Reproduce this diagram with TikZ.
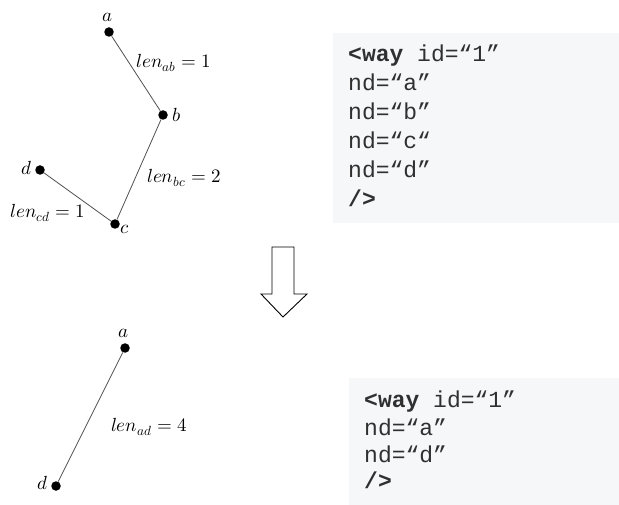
\documentclass[tikz,border=0pt]{standalone}
\usepackage{fontspec}
\usepackage{unicode-math}
\setmathfont{latinmodern-math.otf}
\setmonofont{Liberation Mono}
\definecolor{boxbg}{HTML}{F6F7F9}
\definecolor{edgec}{HTML}{505050}
\definecolor{codec}{HTML}{303030}
\begin{document}
\begin{tikzpicture}[x=1pt,y=-1pt,
  pt/.style={circle,fill=black,inner sep=0pt,minimum size=9.5pt},
  lbl/.style={inner sep=0pt,font=\fontsize{19}{22}\selectfont},
  edge/.style={draw=edgec,line width=0.8pt},
  code/.style={anchor=base west,inner sep=0pt,font=\fontsize{23}{26}\ttfamily,text=codec},
  codebox/.style={fill=boxbg,draw=none}]
\useasboundingbox (0,0) rectangle (619,505);
% top graph
\node[pt] (a) at (109,32) {};
\node[pt] (b) at (163,115) {};
\node[pt] (c) at (115,224) {};
\node[pt] (d) at (40,170) {};
\draw[edge] (a) -- (b);
\draw[edge] (b) -- (c);
\draw[edge] (c) -- (d);
\node[lbl] (la) at (108,17) {$a$};
\node[lbl] (lb) at (177,115) {$b$};
\node[lbl] (lc) at (125,229) {$c$};
\node[lbl] (ld) at (27,168) {$d$};
\node[lbl] (lab) at (174,63) {$len_{ab}=1$};
\node[lbl] (lbc) at (184,178) {$len_{bc}=2$};
\node[lbl] (lcd) at (48,213) {$len_{cd}=1$};
% top code box
\fill[codebox] (333,33) rectangle (619,223);
\node[code] (t1) at (348,62) {\textbf{<way} id=“1”};
\node[code] (t2) at (348,91) {nd=“a”};
\node[code] (t3) at (348,120) {nd=“b”};
\node[code] (t4) at (348,149) {nd=“c“};
\node[code] (t5) at (348,178) {nd=“d”};
\node[code] (t6) at (348,207) {\textbf{/>}};
% arrow
\draw[line width=0.9pt,fill=white,line join=miter] (272,247) -- (294,247) -- (294,294) -- (307,294) -- (283,317) -- (261,294) -- (272,294) -- cycle;
% bottom graph
\node[pt] (a2) at (125,348) {};
\node[pt] (d2) at (56,486) {};
\draw[edge] (a2) -- (d2);
\node[lbl] (la2) at (124,333) {$a$};
\node[lbl] (ld2) at (43,483) {$d$};
\node[lbl] (lad) at (149,427) {$len_{ad}=4$};
% bottom code box
\fill[codebox] (349,378) rectangle (619,505);
\node[code] (u1) at (364,407) {\textbf{<way} id=“1”};
\node[code] (u2) at (364,435) {nd=“a”};
\node[code] (u3) at (364,462) {nd=“d”};
\node[code] (u4) at (364,488) {\textbf{/>}};
\end{tikzpicture}
\end{document}
